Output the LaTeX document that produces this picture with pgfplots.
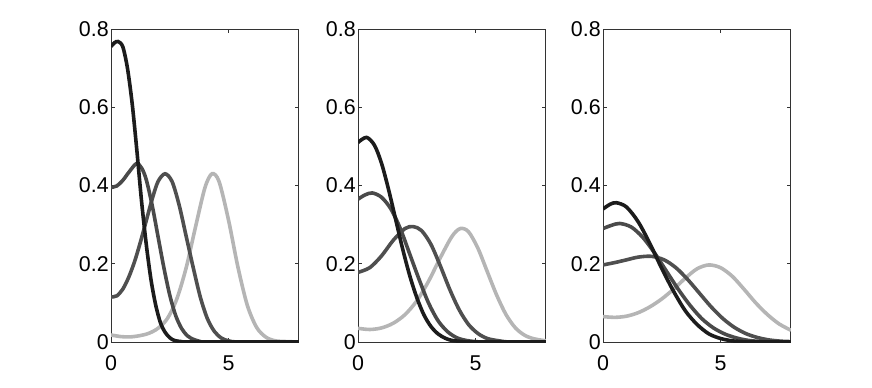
\documentclass[border=0pt]{standalone}
\usepackage{fontspec}
\setmainfont{Liberation Sans}
\usepackage{pgfplots}
\pgfplotsset{compat=1.18}
\definecolor{cA}{HTML}{1C1C1C}
\definecolor{cB}{HTML}{4A4A4A}
\definecolor{cC}{HTML}{4F4F4F}
\definecolor{cD}{HTML}{B5B5B5}
\definecolor{axc}{HTML}{333333}
\pgfplotsset{
  panel/.style={
    scale only axis,
    width=94pt, height=156.5pt,
    xmin=0, xmax=8, ymin=0, ymax=0.8,
    xtick={0,5}, ytick={0,0.2,0.4,0.6,0.8},
    yticklabels={0,0.2,0.4,0.6,0.8},
    xticklabels={0,5},
    tick align=inside, major tick length=2pt,
    tick style={axc, line width=0.4pt},
    axis line style={axc, line width=0.5pt},
    tick label style={font=\fontsize{10.7}{12}\selectfont},
    xticklabel style={yshift=-3.2pt},
    yticklabel style={xshift=2.4pt},
    every axis plot/.append style={line width=1.8pt, smooth, no markers},
    clip=true,
  },
}
\begin{document}
\begin{tikzpicture}
\path[use as bounding box] (-55.5pt,-22.5pt) rectangle (380.5pt,171pt);
% ---------- panel 1 ----------
\begin{axis}[panel, at={(0pt,0pt)}]
\addplot[cD] coordinates {(0,0.018) (0.4,0.014) (0.8,0.013) (1.2,0.016) (1.6,0.022) (2.0,0.035) (2.4,0.06) (2.8,0.11) (3.2,0.19) (3.6,0.295) (4.0,0.395) (4.3,0.43) (4.6,0.41) (5.0,0.312) (5.4,0.192) (5.8,0.094) (6.2,0.037) (6.6,0.012) (7.0,0.003) (7.5,0.001) (8,0)};
\addplot[cC] coordinates {(0,0.115) (0.25,0.118) (0.5,0.135) (0.75,0.165) (1.0,0.205) (1.25,0.255) (1.5,0.31) (1.75,0.365) (2.0,0.41) (2.3,0.43) (2.6,0.41) (2.9,0.35) (3.2,0.27) (3.5,0.19) (3.8,0.115) (4.1,0.06) (4.4,0.027) (4.7,0.01) (5.0,0.003) (5.5,0) (8,0)};
\addplot[cB] coordinates {(0,0.395) (0.25,0.399) (0.5,0.413) (0.75,0.433) (1.08,0.456) (1.3,0.445) (1.5,0.415) (1.75,0.35) (2.0,0.27) (2.25,0.19) (2.5,0.12) (2.75,0.068) (3.0,0.035) (3.25,0.016) (3.5,0.007) (3.75,0.002) (4.0,0) (8,0)};
\addplot[cA] coordinates {(0,0.755) (0.15,0.765) (0.3,0.768) (0.5,0.755) (0.7,0.70) (0.9,0.61) (1.1,0.49) (1.3,0.36) (1.5,0.25) (1.7,0.16) (1.9,0.095) (2.1,0.05) (2.3,0.025) (2.5,0.011) (2.7,0.004) (3.0,0.001) (3.5,0) (8,0)};
\end{axis}
% ---------- panel 2 ----------
\begin{axis}[panel, at={(123.5pt,0pt)}]
\addplot[cD] coordinates {(0,0.035) (0.5,0.032) (1.0,0.036) (1.5,0.048) (2.0,0.07) (2.5,0.105) (3.0,0.155) (3.5,0.215) (4.0,0.27) (4.35,0.29) (4.7,0.282) (5.1,0.24) (5.5,0.18) (5.9,0.12) (6.3,0.07) (6.7,0.036) (7.1,0.017) (7.5,0.008) (8.0,0.003)};
\addplot[cC] coordinates {(0,0.178) (0.5,0.19) (1.0,0.22) (1.5,0.26) (2.0,0.29) (2.35,0.295) (2.7,0.285) (3.1,0.25) (3.5,0.195) (3.9,0.135) (4.3,0.083) (4.7,0.045) (5.1,0.022) (5.5,0.009) (6.0,0.003) (6.5,0) (8,0)};
\addplot[cB] coordinates {(0,0.365) (0.3,0.376) (0.61,0.381) (1.0,0.37) (1.4,0.34) (1.8,0.29) (2.2,0.225) (2.6,0.16) (3.0,0.1) (3.4,0.055) (3.8,0.027) (4.2,0.011) (4.6,0.004) (5.0,0.001) (5.5,0) (8,0)};
\addplot[cA] coordinates {(0,0.51) (0.36,0.523) (0.7,0.503) (1.0,0.457) (1.3,0.39) (1.6,0.314) (1.9,0.238) (2.2,0.17) (2.5,0.114) (2.8,0.07) (3.1,0.04) (3.4,0.021) (3.7,0.01) (4.0,0.004) (4.5,0.001) (5,0) (8,0)};
\end{axis}
% ---------- panel 3 ----------
\begin{axis}[panel, at={(246pt,0pt)}]
\addplot[cD] coordinates {(0,0.065) (0.5,0.063) (1.0,0.066) (1.5,0.075) (2.0,0.09) (2.5,0.11) (3.0,0.135) (3.5,0.163) (4.0,0.187) (4.5,0.197) (5.0,0.19) (5.5,0.168) (6.0,0.135) (6.5,0.1) (7.0,0.07) (7.5,0.046) (8.0,0.03)};
\addplot[cC] coordinates {(0,0.197) (0.5,0.203) (1.0,0.21) (1.5,0.217) (2.06,0.219) (2.6,0.21) (3.1,0.19) (3.6,0.16) (4.1,0.125) (4.6,0.09) (5.1,0.06) (5.6,0.037) (6.1,0.021) (6.6,0.011) (7.1,0.005) (7.6,0.002) (8,0.001)};
\addplot[cB] coordinates {(0,0.29) (0.35,0.298) (0.71,0.303) (1.2,0.294) (1.7,0.267) (2.2,0.227) (2.7,0.181) (3.2,0.135) (3.7,0.094) (4.2,0.06) (4.7,0.036) (5.2,0.02) (5.7,0.01) (6.2,0.004) (6.8,0.001) (7.5,0) (8,0)};
\addplot[cA] coordinates {(0,0.34) (0.3,0.352) (0.57,0.356) (1.0,0.345) (1.5,0.307) (2.0,0.251) (2.5,0.188) (3.0,0.13) (3.5,0.08) (4.0,0.045) (4.5,0.021) (5.0,0.009) (5.5,0.003) (6.0,0.001) (6.5,0) (8,0)};
\end{axis}
\end{tikzpicture}
\end{document}
